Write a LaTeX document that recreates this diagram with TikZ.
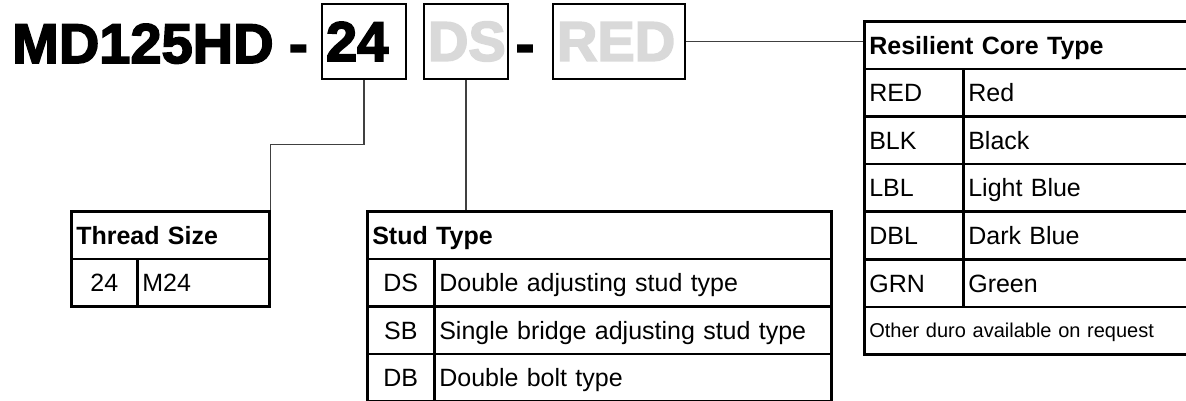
\documentclass[tikz,border=0pt]{standalone}
\usepackage{fontspec}
\setmainfont{Liberation Sans}
\newfontfamily\heavyfont[FakeBold=3]{Liberation Sans Bold}
\usepackage{tikz}
\definecolor{ghost}{HTML}{D9D9D9}
\newcommand{\bodyfont}{\fontsize{25}{30}\selectfont}
\newcommand{\notefont}{\fontsize{20}{24}\selectfont}
\newcommand{\titlefont}{\heavyfont\fontsize{56}{60}\selectfont}
\tikzset{cell/.style={draw,line width=2.6pt,anchor=north west,
                      minimum height=47.6pt,inner xsep=5pt,inner ysep=0pt,
                      text height=18pt,text depth=0pt,
                      text width=#1-10pt,align=left,font=\bodyfont}}
\tikzset{head/.style={cell=#1,font=\bodyfont\bfseries}}
\tikzset{code/.style={cell=#1,align=center}}
\tikzset{title/.style={inner sep=0pt,font=\titlefont}}
\tikzset{optbox/.style={title,draw,line width=2.4pt,minimum height=75pt,
                        inner xsep=4pt,text width=#1-8pt,align=left}}
\tikzset{link/.style={draw=black!75,line width=1.2pt}}

\begin{document}
\begin{tikzpicture}[x=1pt,y=-1pt]
    \useasboundingbox (0,0) rectangle (1186,400);
    % model code
    \node[title,anchor=base west] (model) at (12,63) {MD125HD -};
    \node[optbox=84pt] (b24) at (364,41.5) {24};
    \node[optbox=84pt,text=ghost] (bds) at (466,41.5) {DS};
    \node[title,anchor=base] (sep) at (525,63) {-};
    \node[optbox=132pt,text=ghost] (bred) at (619,41.5) {RED};

    % Thread size
    \node[head=198pt] (thread) at (70,210) {Thread Size};
    \node[code=66pt] (tc1) at (70,257.6) {24};
    \node[cell=132pt] (tn1) at (136,257.6) {M24};

    % Stud type
    \node[head=464pt] (stud) at (366,210) {Stud Type};
    \foreach \c/\d [count=\ci] in {DS/Double adjusting stud type,
        SB/Single bridge adjusting stud type,DB/Double bolt type}{%
          \node[code=67pt] (sc\ci) at (366,210+47.6*\ci) {\c};
          \node[cell=397pt] (sn\ci) at (433,210+47.6*\ci) {\d};
        }

    % Resilient core type
    \node[head=329pt] (res) at (863,20) {Resilient Core Type};
    \foreach \c/\d [count=\ci] in {RED/Red,BLK/Black,LBL/Light Blue,
        DBL/Dark Blue,GRN/Green}{%
          \node[cell=99pt] (rc\ci) at (863,20+47.6*\ci) {\c};
          \node[cell=230pt] (rn\ci) at (962,20+47.6*\ci) {\d};
        }
    \node[cell=329pt,font=\notefont,text height=14.5pt] (note) at (863,305.6)
        {Other duro available on request};

    % Links
    \draw[link] (b24.south) -- ++(0,64) -| (thread.north east);
    \draw[link] (bds.south) -- (bds.south |- stud.north);
    \draw[link] (bred.east) -- (bred.east -| res.west);
\end{tikzpicture}
\end{document}
